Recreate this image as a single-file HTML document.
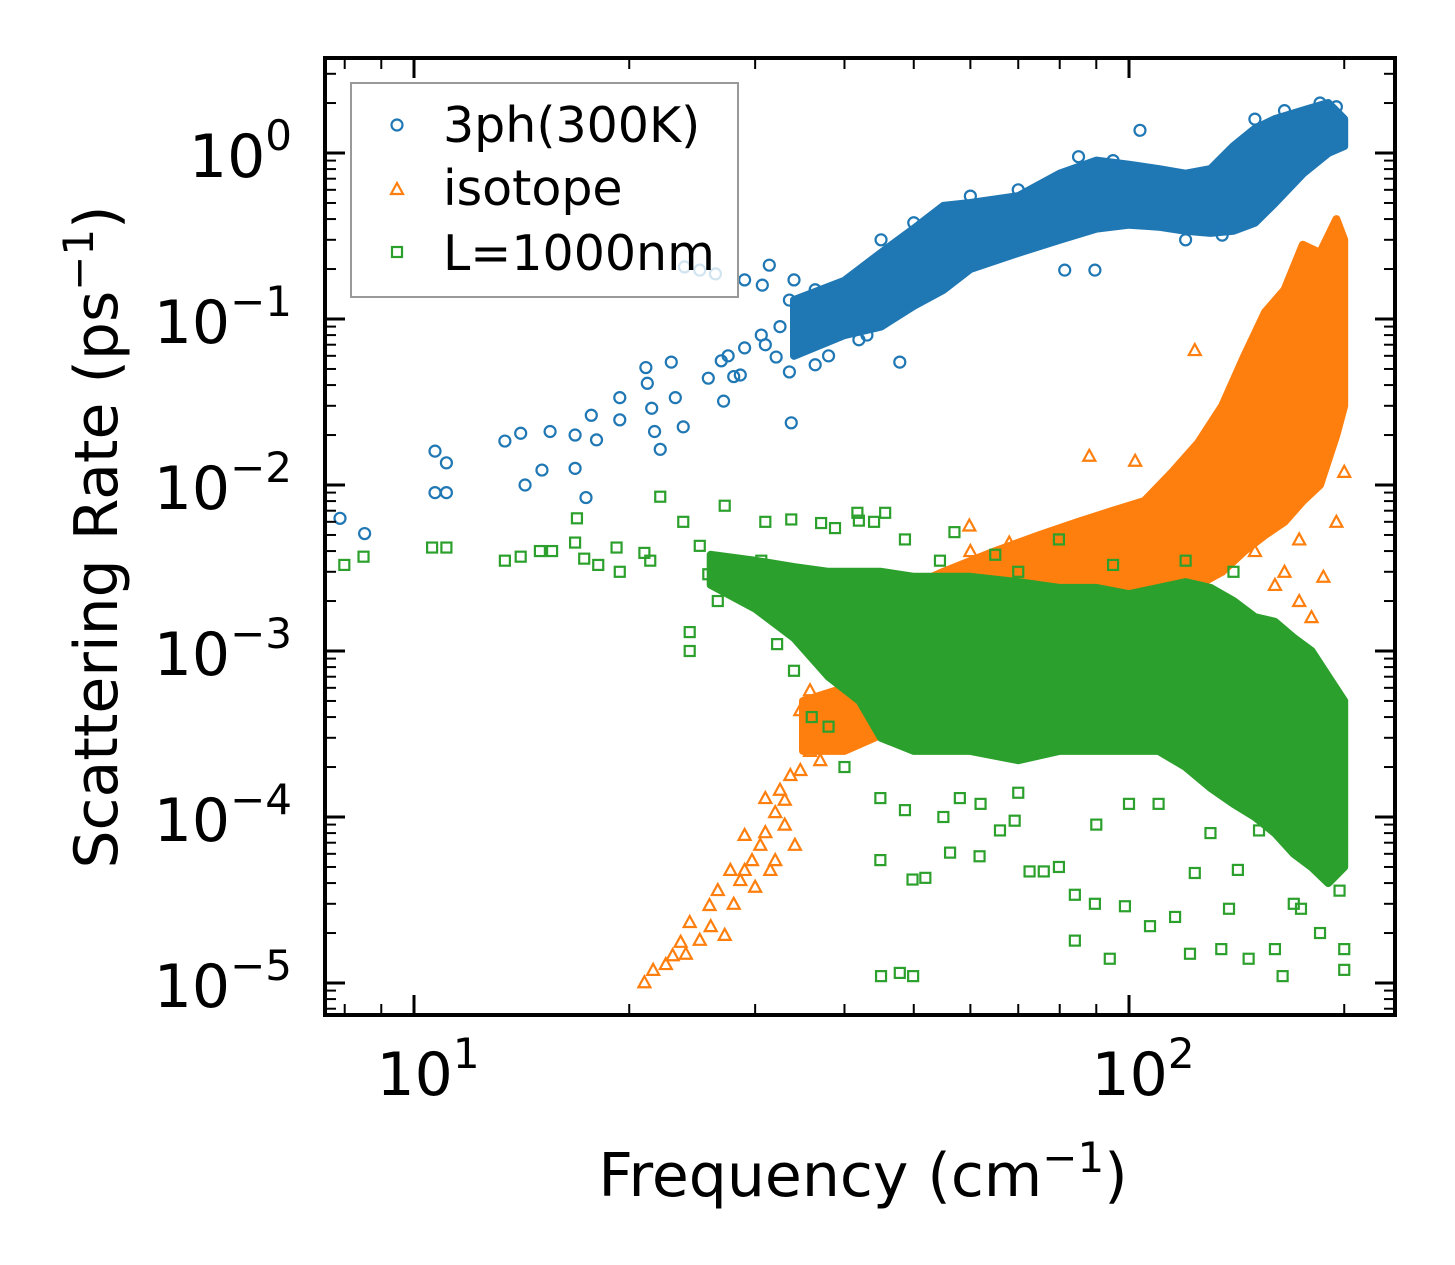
<!DOCTYPE html>
<html><head><meta charset="utf-8"><style>
html,body{margin:0;padding:0;background:#fff;}
svg{display:block;}
text{font-family:"DejaVu Sans","Liberation Sans",sans-serif;fill:#000;}
</style></head><body>
<svg id="chart" width="1455" height="1265" viewBox="0 0 1455 1265" xmlns="http://www.w3.org/2000/svg">
<rect x="0" y="0" width="1455" height="1265" fill="#fff"/>
<g id="bands"></g>
<g id="points"></g>
<g id="axes"></g>
<g id="legend">
<rect x="351" y="83" width="387" height="214" fill="#fff" fill-opacity="0.8" stroke="#999" stroke-width="2"/>
<circle cx="397" cy="125" r="5.5" fill="none" stroke="#1f77b4" stroke-width="2.2"/>
<text x="443" y="142" font-size="49">3ph(300K)</text>
<path d="M391,194 L397,183 L403,194 Z" fill="none" stroke="#ff7f0e" stroke-width="2.2"/>
<text x="443" y="205" font-size="49">isotope</text>
<rect x="392" y="247" width="10" height="10" fill="none" stroke="#2ca02c" stroke-width="2.2"/>
<text x="443" y="270" font-size="49">L=1000nm</text>
</g>
<text x="863" y="1196" font-size="60" text-anchor="middle">Frequency (cm<tspan font-size="42" dy="-24">−1</tspan><tspan dy="24">)</tspan></text>
<text transform="translate(117,537) rotate(-90)" x="0" y="0" font-size="60" text-anchor="middle">Scattering Rate (ps<tspan font-size="42" dy="-24">−1</tspan><tspan dy="24">)</tspan></text>
</svg>
<script>
// ---- data ----
const xMajorTicks = [10, 100];
const xMajorLabels = ["1", "2"];
const xMinorTicks = [8, 9, 20, 30, 40, 50, 60, 70, 80, 90, 200];
const yMajorTicks = [1e0, 1e-1, 1e-2, 1e-3, 1e-4, 1e-5];
const yMajorLabels = ["0", "−1", "−2", "−3", "−4", "−5"];

// dense regions: frequency, lower rate, upper rate
const blueBandF  = [34, 40, 45, 50, 55, 60, 70, 80, 90, 100, 110, 120, 130, 140, 150, 160, 175, 190, 200];
const blueBandLo = [0.06, 0.08, 0.09, 0.12, 0.15, 0.2, 0.25, 0.3, 0.35, 0.37, 0.36, 0.34, 0.33, 0.34, 0.38, 0.5, 0.75, 1.0, 1.1];
const blueBandHi = [0.13, 0.17, 0.25, 0.35, 0.48, 0.5, 0.55, 0.75, 0.9, 0.85, 0.8, 0.75, 0.8, 1.1, 1.4, 1.6, 1.8, 2.0, 1.6];

const orangeBandF  = [35, 40, 44, 50, 55, 65, 75, 85, 95, 105, 115, 125, 135, 145, 155, 165, 175, 185, 195, 200];
const orangeBandLo = [2.5e-4, 2.5e-4, 3e-4, 4e-4, 5e-4, 8e-4, 1e-3, 1.2e-3, 1.5e-3, 2e-3, 2e-3, 2.5e-3, 3e-3, 4e-3, 5e-3, 6e-3, 8e-3, 1e-2, 2e-2, 3e-2];
const orangeBandHi = [5e-4, 6e-4, 1e-3, 2.5e-3, 3e-3, 4e-3, 5e-3, 6e-3, 7e-3, 8e-3, 1.2e-2, 1.8e-2, 3e-2, 6e-2, 1.1e-1, 1.5e-1, 2.8e-1, 2.5e-1, 4e-1, 3e-1];

const greenBandF  = [26, 30, 34, 38, 42, 45, 50, 60, 70, 80, 90, 100, 110, 120, 130, 140, 150, 160, 170, 180, 190, 200];
const greenBandLo = [2.5e-3, 1.8e-3, 1.2e-3, 7e-4, 5e-4, 3e-4, 2.5e-4, 2.5e-4, 2.2e-4, 2.5e-4, 2.5e-4, 2.5e-4, 2.5e-4, 2e-4, 1.5e-4, 1.2e-4, 1e-4, 8e-5, 6e-5, 5e-5, 4e-5, 5e-5];
const greenBandHi = [3.8e-3, 3.5e-3, 3.2e-3, 3e-3, 3e-3, 3e-3, 2.8e-3, 2.8e-3, 2.6e-3, 2.4e-3, 2.4e-3, 2.2e-3, 2.4e-3, 2.6e-3, 2.4e-3, 2e-3, 1.6e-3, 1.5e-3, 1.2e-3, 1e-3, 7e-4, 5e-4];

// individual markers: [frequency, rate]
const bluePoints = [[7.88,0.0063],[8.53,0.0051],[10.7,0.016],[11.1,0.0136],[10.7,0.009],[11.1,0.009],[13.4,0.0184],[14.1,0.0205],[14.3,0.010],[15.1,0.0123],[15.5,0.021],[16.8,0.020],[16.8,0.0126],[17.4,0.0084],[17.7,0.0263],[18.0,0.0187],[19.4,0.0336],[19.4,0.0247],[21.1,0.051],[21.2,0.041],[21.5,0.029],[21.7,0.021],[22.1,0.0164],[22.9,0.055],[23.2,0.0336],[23.8,0.0224],[23.9,0.206],[25.1,0.197],[26.4,0.187],[26.9,0.056],[25.8,0.044],[27.1,0.032],[28.6,0.046],[29.0,0.172],[29.0,0.067],[30.7,0.160],[31.4,0.211],[30.6,0.080],[32.1,0.059],[33.7,0.0237],[33.5,0.048],[33.5,0.13],[34.0,0.172],[36.4,0.15],[36.4,0.053],[39.4,0.099],[41.9,0.075],[47.8,0.055],[53.4,0.344],[81.3,0.197],[89.6,0.197],[54.4,0.42],[103.6,1.37],[27.5,0.06],[28,0.045],[31,0.07],[32.5,0.09],[35,0.11],[38,0.06],[43,0.08],[45,0.3],[50,0.38],[60,0.55],[70,0.6],[85,0.95],[95,0.9],[120,0.3],[135,0.32],[150,1.6],[165,1.8],[185,2.0],[195,1.9]];

const orangePoints = [[21.0,1.01e-5],[21.6,1.2e-5],[23.0,1.47e-5],[23.6,1.77e-5],[24.3,2.33e-5],[25.1,1.82e-5],[25.9,2.95e-5],[26.6,3.63e-5],[27.2,1.95e-5],[27.7,4.8e-5],[28.6,4.17e-5],[29.0,4.8e-5],[29.7,5.5e-5],[30.5,6.8e-5],[31.0,8.1e-5],[31.5,4.8e-5],[29.0,7.8e-5],[32.0,1.07e-4],[32.5,1.46e-4],[33.0,1.27e-4],[33.6,1.79e-4],[34.1,6.8e-5],[34.7,1.92e-4],[35.8,2.5e-4],[37.0,2.2e-4],[38.2,2.9e-4],[34.7,4.4e-4],[35.8,5.8e-4],[22.5,1.3e-5],[24,1.5e-5],[26,2.2e-5],[28,3e-5],[30,3.8e-5],[32,5.5e-5],[31,1.3e-4],[33,9e-5],[123.6,0.065],[131,0.0187],[102,0.014],[88,0.015],[59.8,0.0057],[173,0.002],[187,0.0028],[173,0.0047],[200,0.012],[160,0.0025],[180,0.0016],[195,0.006],[60,0.004],[68,0.0045],[150,0.004],[165,0.003]];

const greenPoints = [[7.99,0.0033],[8.5,0.0037],[10.6,0.0042],[11.1,0.0042],[13.4,0.0035],[14.1,0.0037],[15,0.004],[15.6,0.004],[16.8,0.0045],[16.9,0.0063],[17.3,0.0036],[18.1,0.0033],[19.2,0.0042],[19.4,0.003],[21.0,0.0039],[21.4,0.0035],[22.1,0.0085],[23.8,0.006],[24.3,0.0013],[24.3,0.001],[25.1,0.0043],[25.8,0.0029],[26.6,0.002],[27.2,0.0075],[29,0.0023],[30.6,0.0035],[31,0.006],[32.2,0.0011],[33.7,0.0062],[34,7.6e-4],[37.1,0.0059],[38.8,0.0055],[41.7,0.0068],[44,0.006],[45,1.1e-5],[47.8,1.15e-5],[49.9,1.1e-5],[44.9,5.5e-5],[49.8,4.2e-5],[51.9,4.3e-5],[56.2,6.1e-5],[61.8,5.8e-5],[66,8.3e-5],[69.2,9.5e-5],[72.6,4.7e-5],[76,4.7e-5],[79.8,5e-5],[84,3.4e-5],[84,1.8e-5],[89.6,3e-5],[94,1.4e-5],[98.7,2.9e-5],[107,2.2e-5],[116,2.5e-5],[121.7,1.5e-5],[123.6,4.6e-5],[134.6,1.6e-5],[138,2.8e-5],[147,1.4e-5],[160,1.6e-5],[164,1.1e-5],[174,2.8e-5],[200,1.2e-5],[200,1.6e-5],[197,3.6e-5],[142,4.8e-5],[152,8.3e-5],[110,1.2e-4],[70,1.4e-4],[58,1.3e-4],[48.6,1.1e-4],[44.9,1.3e-4],[70,0.003],[79.8,0.0047],[65,0.0038],[54.4,0.0035],[48.6,0.0047],[45.6,0.0068],[41.9,0.0061],[36,0.0004],[38,0.00035],[40,0.0002],[42,0.0006],[55,0.0001],[62,0.00012],[90,0.00009],[100,0.00012],[130,0.00008],[170,0.00003],[185,0.00002],[190,0.00007],[140,0.003],[120,0.0035],[95,0.0033],[57,0.0052]];

// ---- axis functions ----
const X0 = 414, DX = 715;   // pixel of 10^1, pixels per decade
const Y0 = 153, DY = 166;   // pixel of 10^0, pixels per decade
const LEFT = 325, RIGHT = 1395, TOP = 58, BOTTOM = 1015;
function xs(f){ return X0 + (Math.log10(f) - 1) * DX; }
function ys(r){ return Y0 - Math.log10(r) * DY; }

const NS = "http://www.w3.org/2000/svg";
function mk(tag, parent){ const e = document.createElementNS(NS, tag); parent.appendChild(e); return e; }

const colors = {blue:"#1f77b4", orange:"#ff7f0e", green:"#2ca02c"};
const bandsG = document.getElementById('bands');
const ptsG = document.getElementById('points');

function drawBand(F, Lo, Hi, color, name){
  let d = "";
  for (let i = 0; i < F.length; i++) d += (i ? "L" : "M") + xs(F[i]).toFixed(1) + "," + ys(Hi[i]).toFixed(1);
  for (let i = F.length - 1; i >= 0; i--) d += "L" + xs(F[i]).toFixed(1) + "," + ys(Lo[i]).toFixed(1);
  d += "Z";
  const p = mk('path', bandsG);
  p.setAttribute('d', d);
  p.setAttribute('fill', color);
  p.setAttribute('stroke', color);
  p.setAttribute('stroke-width', '8');
  p.setAttribute('stroke-linejoin', 'round');
  
  
  return p;
}
function drawPoints(P, color, shape, name){
  const g = mk('g', ptsG);
  
  
  P.forEach(pt => {
    const cx = xs(pt[0]), cy = ys(pt[1]);
    let e;
    if (shape === 'circle'){ e = mk('circle', g); e.setAttribute('cx', cx); e.setAttribute('cy', cy); e.setAttribute('r', 5.5); }
    else if (shape === 'tri'){ e = mk('path', g); e.setAttribute('d', `M${cx-6},${cy+5} L${cx},${cy-6} L${cx+6},${cy+5} Z`); }
    else { e = mk('rect', g); e.setAttribute('x', cx-5); e.setAttribute('y', cy-5); e.setAttribute('width', 10); e.setAttribute('height', 10); }
    e.setAttribute('fill', 'none');
    e.setAttribute('stroke', color);
    e.setAttribute('stroke-width', '2.2');
    
    
  });
}
drawBand(blueBandF, blueBandLo, blueBandHi, colors.blue, '3ph-dense-band');
drawPoints(bluePoints, colors.blue, 'circle', '3ph-series');
drawBand(orangeBandF, orangeBandLo, orangeBandHi, colors.orange, 'isotope-dense-band');
drawPoints(orangePoints, colors.orange, 'tri', 'isotope-series');
drawBand(greenBandF, greenBandLo, greenBandHi, colors.green, 'boundary-dense-band');
drawPoints(greenPoints, colors.green, 'square', 'boundary-series');

// ---- axes ----
const ax = document.getElementById('axes');
function line(x1,y1,x2,y2,w,name){
  const l = mk('line', ax);
  l.setAttribute('x1',x1); l.setAttribute('y1',y1); l.setAttribute('x2',x2); l.setAttribute('y2',y2);
  l.setAttribute('stroke','#000'); l.setAttribute('stroke-width',w);
  
  
}
const frame = mk('rect', ax);
frame.setAttribute('x', LEFT); frame.setAttribute('y', TOP);
frame.setAttribute('width', RIGHT-LEFT); frame.setAttribute('height', BOTTOM-TOP);
frame.setAttribute('fill','none'); frame.setAttribute('stroke','#000'); frame.setAttribute('stroke-width','4');



xMajorTicks.forEach((v,i) => {
  const x = xs(v);
  line(x, BOTTOM, x, BOTTOM-20, 3, 'x-major-tick');
  line(x, TOP, x, TOP+20, 3, 'x-major-tick-top');
  const t = mk('text', ax);
  t.setAttribute('x', x + 14); t.setAttribute('y', 1095);
  t.setAttribute('font-size', '60'); t.setAttribute('text-anchor', 'middle');
  
  
  t.innerHTML = '10<tspan font-size="42" dy="-27">' + xMajorLabels[i] + '</tspan>';
});
xMinorTicks.forEach(v => {
  const x = xs(v);
  line(x, BOTTOM, x, BOTTOM-11, 2, 'x-minor-tick');
  line(x, TOP, x, TOP+11, 2, 'x-minor-tick-top');
});
yMajorTicks.forEach((v,i) => {
  const y = ys(v);
  line(LEFT, y, LEFT+20, y, 3, 'y-major-tick');
  line(RIGHT, y, RIGHT-20, y, 3, 'y-major-tick-right');
  const t = mk('text', ax);
  t.setAttribute('x', 292); t.setAttribute('y', y + 24);
  t.setAttribute('font-size', '60'); t.setAttribute('text-anchor', 'end');
  
  
  t.innerHTML = '10<tspan font-size="42" dy="-27">' + yMajorLabels[i] + '</tspan>';
});
for (let e = -6; e <= 0; e++) {
  for (let m = 2; m <= 9; m++) {
    const v = m * Math.pow(10, e);
    const y = ys(v);
    if (y < TOP || y > BOTTOM) continue;
    line(LEFT, y, LEFT+11, y, 2, 'y-minor-tick');
    line(RIGHT, y, RIGHT-11, y, 2, 'y-minor-tick-right');
  }
}
</script>
</body></html>
